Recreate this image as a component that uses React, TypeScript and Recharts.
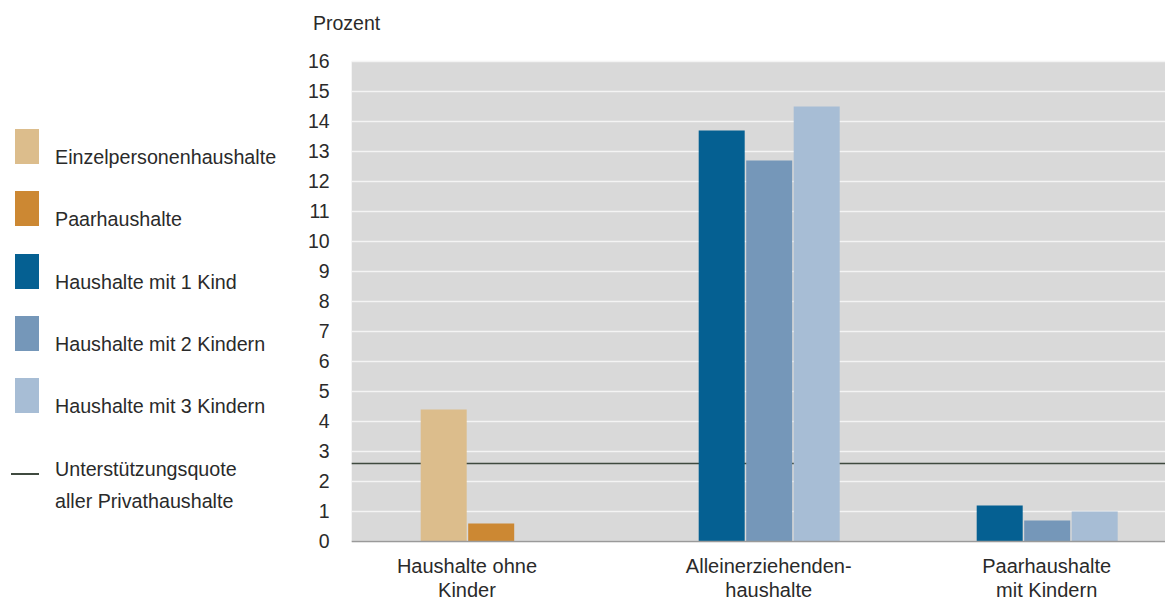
import { BarChart, Bar, XAxis, YAxis, CartesianGrid, ReferenceLine, Cell } from 'recharts';

const categories = ['Haushalte ohne Kinder', 'Alleinerziehenden-haushalte', 'Paarhaushalte mit Kindern'];
const categoryLines = [
  ['Haushalte ohne', 'Kinder'],
  ['Alleinerziehenden-', 'haushalte'],
  ['Paarhaushalte', 'mit Kindern'],
];

// each category shows up to three bars; which legend series sits in which slot
const slotSeries = [
  ['Einzelpersonenhaushalte', 'Paarhaushalte', null],
  ['Haushalte mit 1 Kind', 'Haushalte mit 2 Kindern', 'Haushalte mit 3 Kindern'],
  ['Haushalte mit 1 Kind', 'Haushalte mit 2 Kindern', 'Haushalte mit 3 Kindern'],
];
const slot1 = [4.4, 13.7, 1.2];
const slot2 = [0.6, 12.7, 0.7];
const slot3 = [null, 14.5, 1.0];

const quote = 2.6;
const quoteLabel = ['Unterstützungsquote', 'aller Privathaushalte'];

const legendNames = [
  'Einzelpersonenhaushalte',
  'Paarhaushalte',
  'Haushalte mit 1 Kind',
  'Haushalte mit 2 Kindern',
  'Haushalte mit 3 Kindern',
];
const yTicks = [0, 1, 2, 3, 4, 5, 6, 7, 8, 9, 10, 11, 12, 13, 14, 15, 16];

const COLORS: Record<string, string> = {
  Einzelpersonenhaushalte: '#dcbd8c',
  Paarhaushalte: '#cc8833',
  'Haushalte mit 1 Kind': '#056092',
  'Haushalte mit 2 Kindern': '#7597b9',
  'Haushalte mit 3 Kindern': '#a7bdd5',
};

const FONT = '"Liberation Sans", Arial, sans-serif';
const TEXT = '#2a2a2a';
const QUOTE_COLOR = '#3f4a3f';

const data = categories.map((name, i) => ({
  name,
  s1: slot1[i],
  s2: slot2[i],
  s3: slot3[i],
}));

const BAR = 46;
const GAP = 1.5;

const CategoryTick = (props: any) => {
  const { x, y, payload } = props;
  const i = payload.index;
  // center the label under the bars actually drawn
  const shift = slot3[i] == null ? -(BAR + GAP) / 2 : 0;
  const lines = categoryLines[i] || [payload.value];
  return (
    <g transform={`translate(${x + shift},${y})`}>
      {lines.map((l, k) => (
        <text key={k} x={0} y={23 + k * 24.5} textAnchor="middle" fontSize={20} fill={TEXT} fontFamily={FONT}>
          {l}
        </text>
      ))}
    </g>
  );
};

export default function App() {
  const slots = ['s1', 's2', 's3'];
  return (
    <div style={{ position: 'relative', width: 1165, height: 590, overflow: 'hidden', fontFamily: FONT, color: TEXT }}>
      <div style={{ position: 'absolute', left: 305, top: 4, fontSize: 19.5 }}>Prozent</div>

      {legendNames.map((n, i) => {
        const top = 121 + i * 62.3;
        return (
          <div key={n}>
            <div style={{ position: 'absolute', left: 7, top, width: 24, height: 35, background: COLORS[n] }} />
            <div style={{ position: 'absolute', left: 47, top: top + 17, fontSize: 19.7, lineHeight: '22px', whiteSpace: 'nowrap' }}>{n}</div>
          </div>
        );
      })}
      <div style={{ position: 'absolute', left: 3, top: 465, width: 28, height: 1.5, background: QUOTE_COLOR }} />
      <div style={{ position: 'absolute', left: 47, top: 445, fontSize: 19.7, lineHeight: '32px', whiteSpace: 'nowrap' }}>
        {quoteLabel.map((l) => (
          <div key={l}>{l}</div>
        ))}
      </div>

      <div style={{ position: 'absolute', left: 0, top: 0 }}>
        <BarChart
          width={1180}
          height={590}
          data={data}
          margin={{ top: 53.5, right: 2.3, bottom: 0, left: 0 }}
          barSize={BAR}
          barGap={GAP}
        >
          <CartesianGrid vertical={false} stroke="#f4f4f4" strokeWidth={1.5} fill="#d9d9d9" />
          <XAxis
            dataKey="name"
            height={56.5}
            axisLine={{ stroke: '#9a9a9a', strokeWidth: 1.5 }}
            tickLine={false}
            tick={<CategoryTick />}
            interval={0}
          />
          <YAxis
            width={343.7}
            domain={[0, 16]}
            ticks={yTicks}
            interval={0}
            axisLine={false}
            tickLine={false}
            tickSize={0}
            tickMargin={22}
            tick={{ fontSize: 19.5, fill: TEXT, fontFamily: FONT }}
          />
          <ReferenceLine y={quote} stroke={QUOTE_COLOR} strokeWidth={1.5} zIndex={100} />
          {slots.map((key, si) => (
            <Bar key={key} dataKey={key} isAnimationActive={false}>
              {data.map((_, ci) => (
                <Cell key={ci} fill={COLORS[slotSeries[ci][si] as string] || 'transparent'} />
              ))}
            </Bar>
          ))}
        </BarChart>
      </div>
    </div>
  );
}
